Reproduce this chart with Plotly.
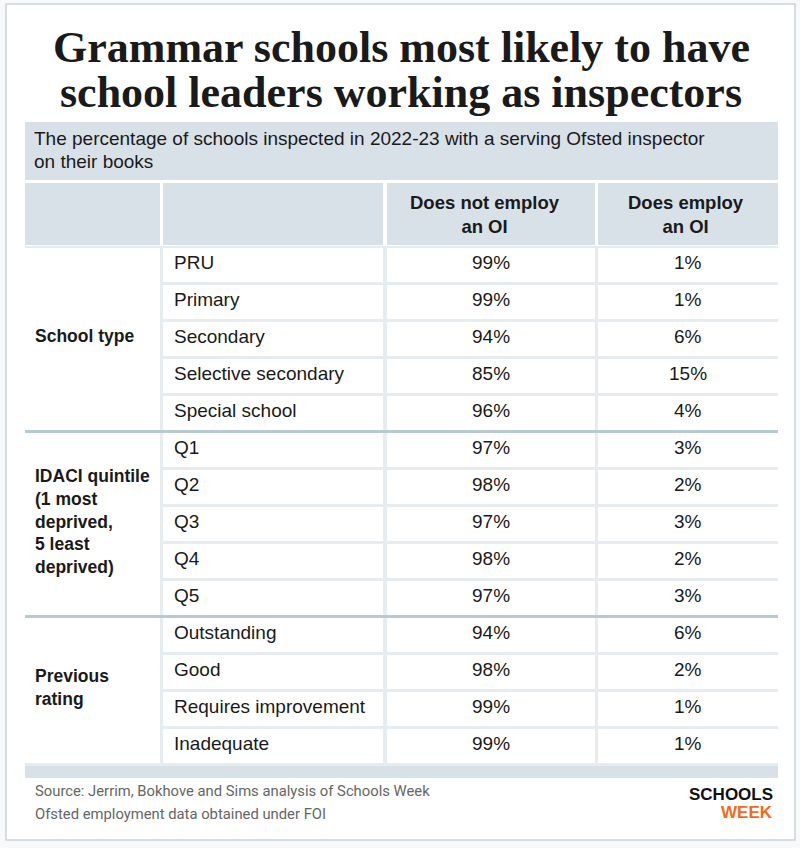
import plotly.graph_objects as go

groups = ["School type", "IDACI quintile<br>(1 most<br>deprived,<br>5 least<br>deprived)", "Previous<br>rating"]
group_sizes = [5, 5, 4]
categories = ["PRU", "Primary", "Secondary", "Selective secondary", "Special school",
              "Q1", "Q2", "Q3", "Q4", "Q5",
              "Outstanding", "Good", "Requires improvement", "Inadequate"]
not_employ = [99, 99, 94, 85, 96, 97, 98, 97, 98, 97, 94, 98, 99, 99]
employ = [1, 1, 6, 15, 4, 3, 2, 3, 2, 3, 6, 2, 1, 1]
headers = ["Does not employ<br>an OI", "Does employ<br>an OI"]

HDR = "#d9e1e8"
GAP = "#e6ecf0"
SEP = "#b9c9d3"
TXT = "#1a1a1a"
FONT = "Liberation Sans"

shapes = []
ann = []

def rect(x0, y0, x1, y1, fill, line=None, lw=0):
    shapes.append(dict(type="rect", x0=x0, y0=y0, x1=x1, y1=y1, fillcolor=fill,
                       line=dict(color=line or fill, width=lw), layer="below"))

def text(x, y, s, size=17, bold=False, anchor="center", color=TXT, family=FONT):
    ann.append(dict(x=x, y=y, text=f"<b>{s}</b>" if bold else s, showarrow=False,
                    xanchor=anchor, yanchor="middle", align=anchor if anchor != "center" else "center",
                    font=dict(size=size, color=color, family=family)))

rect(6, 4, 795, 840, "white", "#c9d3db", 1.5)

text(401, 47, "Grammar schools most likely to have", 44, True, family="Liberation Serif")
text(401, 92, "school leaders working as inspectors", 44, True, family="Liberation Serif")

rect(25, 122, 778, 180, HDR)
text(32, 138, "The percentage of schools inspected in 2022-23 with a serving Ofsted inspector", 19, anchor="left")
text(32, 161, "on their books", 19, anchor="left")

cols = [(25, 160), (163, 383), (387, 595), (598, 778)]
for (a, b) in cols:
    rect(a, 183, b, 245, HDR)
text(485, 214, headers[0], 18.5, True)
text(686, 214, headers[1], 18.5, True)

top = 246
rh = 37
n = len(categories)
rect(25, top, 778, top + rh * n + 2, GAP)
for i, c in enumerate(categories):
    y0 = top + 2 + i * rh
    for (a, b) in cols[1:]:
        rect(a, y0, b, y0 + rh - 3, "white")
    yc = y0 + (rh - 3) / 2 - 2.5
    text(172, yc, c, 19, anchor="left")
    text(491, yc, f"{not_employ[i]}%", 19)
    text(688, yc, f"{employ[i]}%", 19)

start = 0
for g, sz in zip(groups, group_sizes):
    y0 = top + 2 + start * rh
    y1 = y0 + sz * rh - 3
    rect(25, y0, 160, y1, "white")
    text(33, (y0 + y1) / 2 - 3, g, 17.5, True, anchor="left")
    start += sz
    if start < n:
        yl = top + start * rh + 0.5
        shapes.append(dict(type="line", x0=25, x1=778, y0=yl, y1=yl, line=dict(color=SEP, width=3)))

bb = top + rh * n + 2
rect(25, bb, 778, bb + 12, HDR)

text(33, 791, "Source: Jerrim, Bokhove and Sims analysis of Schools Week", 14.8, anchor="left", color="#666", family="Roboto")
text(33, 814, "Ofsted employment data obtained under FOI", 14.8, anchor="left", color="#666", family="Roboto")
text(775, 794, "SCHOOLS", 17, True, anchor="right", color="#111")
text(775, 812, "WEEK", 17, True, anchor="right", color="#f26a21")

fig = go.Figure()
fig.update_layout(width=800, height=848, margin=dict(l=0, r=0, t=0, b=0),
                  paper_bgcolor="#f7f9fb", plot_bgcolor="rgba(0,0,0,0)",
                  xaxis=dict(range=[0, 800], visible=False, fixedrange=True),
                  yaxis=dict(range=[848, 0], visible=False, fixedrange=True),
                  shapes=shapes, annotations=ann, showlegend=False)
fig.write_html("out.html", post_script="document.body.style.margin='0';",
               config={"displayModeBar": False})
